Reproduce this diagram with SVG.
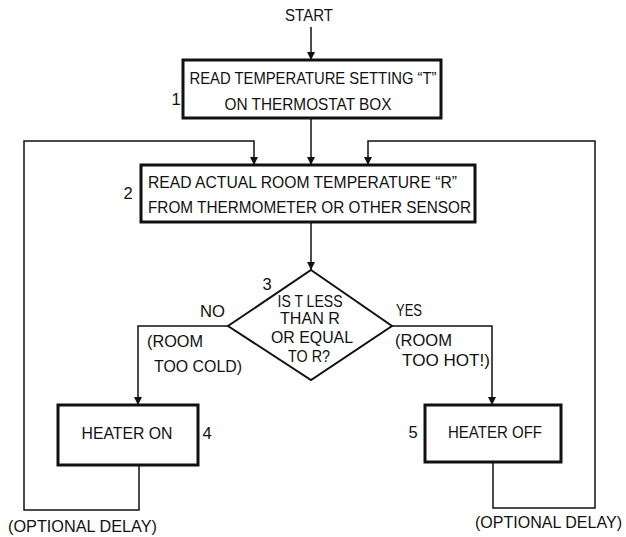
<svg xmlns="http://www.w3.org/2000/svg" width="626" height="537" viewBox="0 0 626 537">
  <defs>
    <marker id="arrow" viewBox="0 0 8 10" refX="8" refY="5" markerWidth="8" markerHeight="10" markerUnits="userSpaceOnUse" orient="auto">
      <path d="M0,1 L8,5 L0,9 Z" fill="#111"/>
    </marker>
    <style>
      text { font-family: "Liberation Sans", Arial, sans-serif; font-size: 16.5px; fill: #111; }
      .box { fill: #fff; stroke: #111; stroke-width: 3; }
      .wire { fill: none; stroke: #111; stroke-width: 1.5; }
      .arr { marker-end: url(#arrow); }
    </style>
  </defs>
  <rect width="626" height="537" fill="#fff"/>

  <!-- connectors -->
  <g id="connectors">
    <path class="wire arr" d="M311,27 L311,60"/>
    <path class="wire arr" d="M311,118 L311,165"/>
    <path class="wire arr" d="M311,222 L311,270"/>
    <path class="wire arr" d="M228,326 L138,326 L138,405"/>
    <path class="wire arr" d="M392,326 L492,326 L492,405"/>
    <path class="wire arr" d="M139,465 L139,510 L24,510 L24,141 L254,141 L254,165"/>
    <path class="wire arr" d="M493,462 L493,508 L595,508 L595,141 L368,141 L368,165"/>
  </g>

  <text x="309" y="21" text-anchor="middle" textLength="48" lengthAdjust="spacingAndGlyphs">START</text>

  <g id="n1">
    <rect class="box" x="183" y="60" width="258" height="58"/>
    <text x="313" y="84" text-anchor="middle" textLength="247" lengthAdjust="spacingAndGlyphs">READ TEMPERATURE SETTING “T”</text>
    <text x="308" y="110" text-anchor="middle" textLength="167" lengthAdjust="spacingAndGlyphs">ON THERMOSTAT BOX</text>
    <text x="176" y="105" text-anchor="middle">1</text>
  </g>

  <g id="n2">
    <rect class="box" x="141" y="165" width="334" height="57"/>
    <text x="148" y="188" textLength="309" lengthAdjust="spacingAndGlyphs">READ ACTUAL ROOM TEMPERATURE “R”</text>
    <text x="148" y="213" textLength="323" lengthAdjust="spacingAndGlyphs">FROM THERMOMETER OR OTHER SENSOR</text>
    <text x="128" y="199" text-anchor="middle">2</text>
  </g>

  <g id="n3">
    <path d="M311,270 L392,326 L311,380 L228,326 Z" fill="#fff" stroke="#111" stroke-width="2"/>
    <text x="310" y="307" text-anchor="middle" textLength="65" lengthAdjust="spacingAndGlyphs">IS T LESS</text>
    <text x="310" y="324" text-anchor="middle" textLength="60" lengthAdjust="spacingAndGlyphs">THAN R</text>
    <text x="312" y="343" text-anchor="middle" textLength="82" lengthAdjust="spacingAndGlyphs">OR EQUAL</text>
    <text x="309" y="362" text-anchor="middle" textLength="42" lengthAdjust="spacingAndGlyphs">TO R?</text>
    <text x="267" y="290" text-anchor="middle">3</text>
  </g>

  <g id="branch-labels">
    <text x="200" y="317" textLength="25" lengthAdjust="spacingAndGlyphs">NO</text>
    <text x="147" y="347" textLength="56" lengthAdjust="spacingAndGlyphs">(ROOM</text>
    <text x="154" y="372" textLength="88" lengthAdjust="spacingAndGlyphs">TOO COLD)</text>
    <text x="396" y="316" textLength="26" lengthAdjust="spacingAndGlyphs">YES</text>
    <text x="395" y="346" textLength="57" lengthAdjust="spacingAndGlyphs">(ROOM</text>
    <text x="402" y="366" textLength="88" lengthAdjust="spacingAndGlyphs">TOO HOT!)</text>
  </g>

  <g id="n4">
    <rect class="box" x="58" y="405" width="140" height="60"/>
    <text x="127" y="439" text-anchor="middle" textLength="91" lengthAdjust="spacingAndGlyphs">HEATER ON</text>
    <text x="207" y="439" text-anchor="middle">4</text>
  </g>

  <g id="n5">
    <rect class="box" x="425" y="405" width="136" height="57"/>
    <text x="495" y="438" text-anchor="middle" textLength="94" lengthAdjust="spacingAndGlyphs">HEATER OFF</text>
    <text x="413" y="438" text-anchor="middle">5</text>
  </g>

  <text x="8" y="532" textLength="149" lengthAdjust="spacingAndGlyphs">(OPTIONAL DELAY)</text>
  <text x="475" y="528" textLength="147" lengthAdjust="spacingAndGlyphs">(OPTIONAL DELAY)</text>
</svg>
